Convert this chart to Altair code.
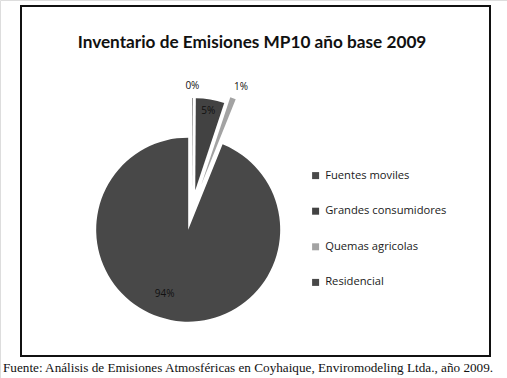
import altair as alt
import pandas as pd

# ---- data ----
categories = ["Fuentes moviles", "Grandes consumidores", "Quemas agricolas", "Residencial"]
values = [0.1, 5.0, 1.0, 93.9]          # percent of MP10 emissions
colors = ["#4a4a4a", "#424242", "#a3a3a3", "#484848"]

# ---- styling (explosion and label placement, px / degrees) ----
explode = [20, 20, 27, 20]
label_r = [104, 80, 105, 69]
label_shift = [0, 0, 2, 9]

TITLE = "Inventario de Emisiones MP10 año base 2009"
FOOTER = "Fuente: Análisis de Emisiones Atmosféricas en Coyhaique, Enviromodeling Ltda., año 2009."

W, H = 507, 378
BX, BY = 192, 210
RADIUS = 92

df = pd.DataFrame({
    "cat": categories,
    "value": values,
    "order": list(range(len(categories))),
    "explode": explode,
    "lr": label_r,
    "ls": label_shift,
})

base = (
    alt.Chart(df)
    .transform_joinaggregate(total="sum(value)")
    .transform_window(cum="sum(value)", sort=[alt.SortField("order")], frame=[None, 0])
    .transform_calculate(
        t1="datum.cum / datum.total * 2 * PI",
        t0="(datum.cum - datum.value) / datum.total * 2 * PI",
    )
    .transform_calculate(mid="(datum.t0 + datum.t1) / 2")
    .transform_calculate(
        cx=f"{BX} + datum.explode * sin(datum.mid)",
        cy=f"{BY} - datum.explode * cos(datum.mid)",
    )
    .transform_calculate(
        lx="datum.cx + datum.lr * sin(datum.mid + datum.ls * PI / 180)",
        ly="datum.cy - datum.lr * cos(datum.mid + datum.ls * PI / 180)",
        lab="format(datum.value, '.0f') + '%'",
    )
)

arcs = base.mark_arc(radius=RADIUS, stroke=None).encode(
    x=alt.X("cx:Q", scale=None, axis=None),
    y=alt.Y("cy:Q", scale=None, axis=None),
    theta=alt.Theta("t0:Q", scale=None),
    theta2=alt.Theta2("t1:Q"),
    color=alt.Color(
        "cat:N",
        scale=alt.Scale(domain=categories, range=colors),
        legend=alt.Legend(
            title=None,
            orient="none",
            legendX=310,
            legendY=170,
            symbolType="square",
            symbolSize=49,
            symbolStrokeWidth=0,
            labelFont="Open Sans",
            labelFontSize=11.2,
            labelColor="#1a1a1a",
            labelOffset=4,
            rowPadding=23.6,
        ),
    ),
)

labels = base.mark_text(font="Open Sans", fontSize=10, color="#111111", baseline="middle", align="center").encode(
    x=alt.X("lx:Q", scale=None, axis=None),
    y=alt.Y("ly:Q", scale=None, axis=None),
    text="lab:N",
)

frame = alt.Chart(pd.DataFrame({"k": [0]})).mark_rect(
    fill="transparent", stroke="#111111", strokeWidth=2
).encode(x=alt.value(21), x2=alt.value(490), y=alt.value(6), y2=alt.value(356))

title = alt.Chart(pd.DataFrame({"t": [TITLE]})).mark_text(
    font="Lato", fontSize=17.2, fontWeight="bold", color="#111111", align="center", baseline="alphabetic"
).encode(x=alt.value(252), y=alt.value(48), text="t:N")

footer = alt.Chart(pd.DataFrame({"t": [FOOTER]})).mark_text(
    font="Liberation Serif", fontSize=13.2, color="#111111", align="left", baseline="alphabetic"
).encode(x=alt.value(3), y=alt.value(372), text="t:N")

chart = (
    alt.layer(frame, arcs, labels, title, footer)
    .properties(width=W, height=H, padding=0, autosize=alt.AutoSizeParams(type="none"))
    .configure_view(stroke=None)
    .configure(background="white")
)

chart.save("out.html", embed_options={"renderer": "svg", "actions": False})
